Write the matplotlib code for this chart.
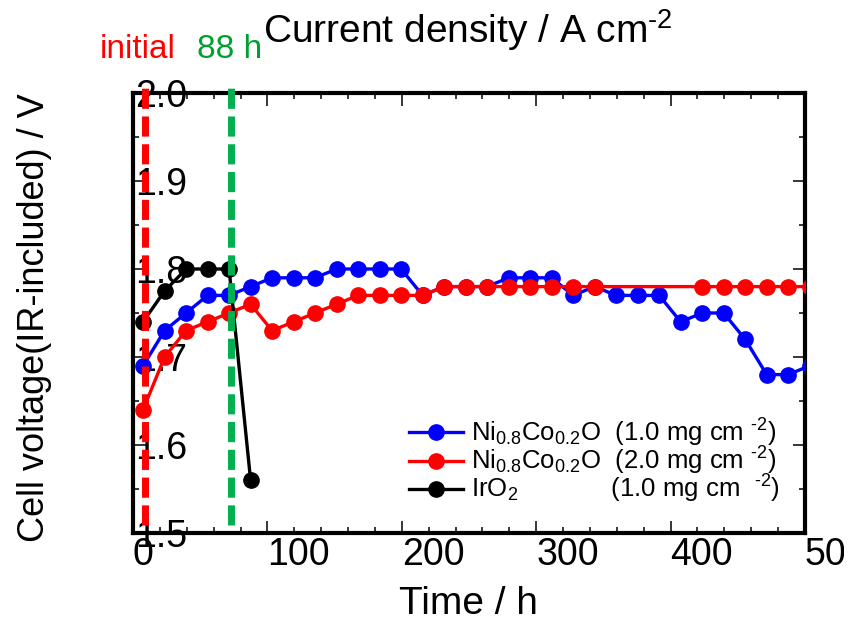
import matplotlib
matplotlib.use("Agg")
import matplotlib.pyplot as plt
from matplotlib.ticker import MultipleLocator, FixedLocator
from matplotlib.transforms import Bbox, TransformedBbox

plt.rcParams['font.family'] = ['Liberation Sans', 'DejaVu Sans']
plt.rcParams['mathtext.fontset'] = 'custom'
plt.rcParams['mathtext.rm'] = 'Liberation Sans'
plt.rcParams['mathtext.it'] = 'Liberation Sans:italic'
plt.rcParams['mathtext.bf'] = 'Liberation Sans:bold'
plt.rcParams['mathtext.default'] = 'regular'

# ---- data -------------------------------------------------------------
ni_1mg_time = [7.5, 23.5, 39.5, 55.5, 71.5, 87.5, 103.5, 119.5, 135.5, 151.5,
               167.5, 183.5, 199.5, 215.5, 231.5, 247.5, 263.5, 279.5, 295.5,
               311.5, 327.5, 343.5, 359.5, 375.5, 391.5, 407.5, 423.5, 439.5,
               455.5, 471.5, 487.5, 503.5]
ni_1mg_volt = [1.69, 1.73, 1.75, 1.77, 1.77, 1.78, 1.79, 1.79, 1.79, 1.80,
               1.80, 1.80, 1.80, 1.77, 1.78, 1.78, 1.78, 1.79, 1.79, 1.79,
               1.77, 1.78, 1.77, 1.77, 1.77, 1.74, 1.75, 1.75, 1.72, 1.68,
               1.68, 1.69]

ni_2mg_time = [7.5, 23.5, 39.5, 55.5, 71.5, 87.5, 103.5, 119.5, 135.5, 151.5,
               167.5, 183.5, 199.5, 215.5, 231.5, 247.5, 263.5, 279.5, 295.5,
               311.5, 327.5, 343.5, 423.5, 439.5, 455.5, 471.5, 487.5, 503.5]
ni_2mg_volt = [1.64, 1.70, 1.73, 1.74, 1.75, 1.76, 1.73, 1.74, 1.75, 1.76,
               1.77, 1.77, 1.77, 1.77, 1.78, 1.78, 1.78, 1.78, 1.78, 1.78,
               1.78, 1.78, 1.78, 1.78, 1.78, 1.78, 1.78, 1.78]

iro2_time = [7.5, 23.5, 39.5, 55.5, 71.5, 87.5]
iro2_volt = [1.74, 1.775, 1.80, 1.80, 1.80, 1.56]

initial_h = 9
after_h = 73

series_labels = [
    r"Ni$_{0.8}$Co$_{0.2}$O  (1.0 mg cm $^{\text{-2}}$)",
    r"Ni$_{0.8}$Co$_{0.2}$O  (2.0 mg cm $^{\text{-2}}$)",
    r"IrO$_{2}$             (1.0 mg cm  $^{\text{-2}}$)",
]
series_colors = ["#0000ff", "#ff0000", "#000000"]

x_ticks = [0, 100, 200, 300, 400, 500]
y_ticks = [1.5, 1.6, 1.7, 1.8, 1.9, 2.0]

# ---- figure -----------------------------------------------------------
W, H = 854, 628
fig = plt.figure(figsize=(W / 100, H / 100), dpi=100)
ax = fig.add_axes([133 / W, 1 - 533 / H, 672 / W, 440 / H])

for t, v, c, lab in zip([ni_1mg_time, ni_2mg_time, iro2_time],
                        [ni_1mg_volt, ni_2mg_volt, iro2_volt],
                        series_colors, series_labels):
    ax.plot(t, v, "-o", color=c, lw=2.4, ms=11, label=lab, zorder=3)

dash = (0, (2.9, 1.1))
ax.axvline(initial_h, ymin=0.018, ymax=1.016, color="#ff0000", lw=5,
           ls=dash, clip_on=False, zorder=4)
ax.axvline(after_h, ymin=0.018, ymax=1.016, color="#00b050", lw=5,
           ls=dash, clip_on=False, zorder=4)

ax.set_xlim(0, 500)
ax.set_ylim(1.5, 2.0)
ax.xaxis.set_major_locator(FixedLocator(x_ticks))
ax.xaxis.set_minor_locator(MultipleLocator(20))
ax.yaxis.set_major_locator(FixedLocator(y_ticks))
ax.yaxis.set_minor_locator(MultipleLocator(0.05))
ax.set_xticklabels([str(v) for v in x_ticks])
ax.set_yticklabels([f"{v:.1f}" for v in y_ticks])

for s in ax.spines.values():
    s.set_linewidth(3)
ax.tick_params(which="both", direction="in", top=True, right=True,
               width=1.1, labelsize=27)
ax.tick_params(which="major", length=9)
ax.tick_params(which="minor", length=4.5)
ax.tick_params(axis="x", pad=3)
ax.tick_params(axis="y", pad=-1.5)
for lbl in ax.get_xticklabels():
    lbl.set_ha("left")
for lbl in ax.get_yticklabels():
    lbl.set_ha("left")

# the last time label runs into the right edge of the canvas
edge_clip = TransformedBbox(Bbox([[0, 0], [844 / W, 1]]), fig.transFigure)
last_label = ax.xaxis.get_major_ticks()[-1].label1
last_label.set_clip_box(edge_clip)
last_label.set_clip_on(True)

fig.text(468 / W, 1 - 604 / H, "Time / h", ha="center", va="center",
         fontsize=28)
fig.text(35 / W, 1 - 318 / H, "Cell voltage(IR-included) / V", ha="center",
         va="center", rotation=90, fontsize=26)
fig.text(468 / W, 1 - 30 / H, r"Current density / A cm$^{\text{-2}}$",
         ha="center", va="center", fontsize=28)
fig.text(138 / W, 1 - 50 / H, "initial", ha="center", va="center",
         fontsize=24, color="#ff0000")
fig.text(230 / W, 1 - 50 / H, "88 h", ha="center", va="center",
         fontsize=24, color="#00a030")

leg = ax.legend(loc="center left", bbox_to_anchor=(409 / W, 1 - 461 / H),
                bbox_transform=fig.transFigure, frameon=False, fontsize=18.5,
                handlelength=2.1, handletextpad=0.3, labelspacing=-0.15,
                borderpad=0, borderaxespad=0, markerscale=1.0)

fig.savefig("out.png", dpi=100)
